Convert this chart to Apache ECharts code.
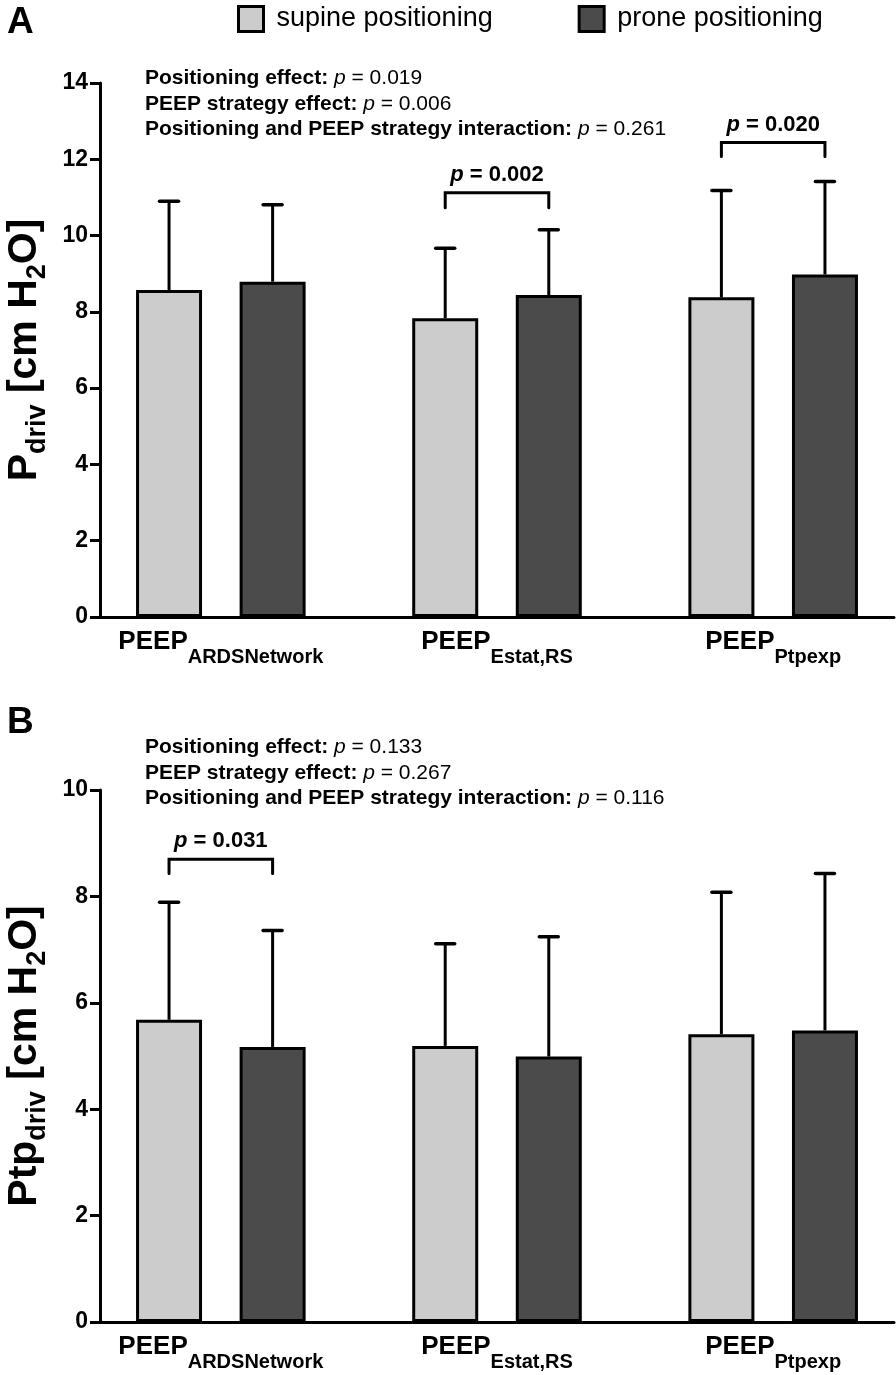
<!DOCTYPE html>
<html>
<head>
<meta charset="utf-8">
<script src="https://cdn.jsdelivr.net/npm/echarts@6/dist/echarts.min.js"></script>
<style>
html,body{margin:0;padding:0;background:#fff;}
#chart{width:896px;height:1375px;}
</style>
</head>
<body>
<div id="chart"></div>
<script>
// ---------------- data ----------------
const categories = ['ARDSNetwork', 'Estat,RS', 'Ptpexp'];
const seriesNames = ['supine positioning', 'prone positioning'];

// Panel A: Pdriv [cm H2O]
const aSupineMean = [8.57, 7.83, 8.38];
const aSupineSD   = [2.33, 1.84, 2.80];
const aProneMean  = [8.79, 8.44, 8.98];
const aProneSD    = [2.02, 1.71, 2.44];

// Panel B: Ptpdriv [cm H2O]
const bSupineMean = [5.68, 5.19, 5.41];
const bSupineSD   = [2.21, 1.92, 2.67];
const bProneMean  = [5.17, 4.99, 5.48];
const bProneSD    = [2.19, 2.25, 2.95];

const aYTicks = [0, 2, 4, 6, 8, 10, 12, 14];
const bYTicks = [0, 2, 4, 6, 8, 10];

const aStats = [
  ['Positioning effect:', '0.019'],
  ['PEEP strategy effect:', '0.006'],
  ['Positioning and PEEP strategy interaction:', '0.261']
];
const bStats = [
  ['Positioning effect:', '0.133'],
  ['PEEP strategy effect:', '0.267'],
  ['Positioning and PEEP strategy interaction:', '0.116']
];

// pairwise comparisons: group index, p value, bracket level, leg end
const aPairs = [
  { group: 1, p: '0.002', level: 11.12, leg: 10.73 },
  { group: 2, p: '0.020', level: 12.44, leg: 12.07 }
];
const bPairs = [
  { group: 0, p: '0.031', level: 8.70, leg: 8.43 }
];

// ---------------- layout helpers ----------------
const SANS = "'Liberation Sans', Arial, sans-serif";
const SUPINE_COLOR = '#cccccc';
const PRONE_COLOR = '#4b4b4b';

const groupCenter = i => 3.5 + 8 * i;
const supineX = i => groupCenter(i) - 1.5;
const proneX = i => groupCenter(i) + 1.5;

function barData(means, xf) {
  return means.map((m, i) => [xf(i), m]);
}
function errData(means, sds, xf) {
  return means.map((m, i) => [xf(i), m, sds[i]]);
}

function errRender(params, api) {
  const x = api.value(0), m = api.value(1), sd = api.value(2);
  const p0 = api.coord([x, m]);
  const p1 = api.coord([x, m + sd]);
  return {
    type: 'group',
    children: [
      { type: 'line', shape: { x1: p0[0], y1: p0[1], x2: p1[0], y2: p1[1] }, style: { stroke: '#000', lineWidth: 3 } },
      { type: 'line', shape: { x1: p1[0] - 9.5, y1: p1[1], x2: p1[0] + 9.5, y2: p1[1] }, style: { stroke: '#000', lineWidth: 3.5, lineCap: 'round' } }
    ]
  };
}

function bracketRenderFactory(pairs) {
  return function (params, api) {
    const pr = pairs[params.dataIndex];
    const a = api.coord([supineX(pr.group), pr.level]);
    const b = api.coord([proneX(pr.group), pr.level]);
    const al = api.coord([supineX(pr.group), pr.leg]);
    return {
      type: 'group',
      children: [
        { type: 'polyline', shape: { points: [[a[0], al[1]], [a[0], a[1]], [b[0], b[1]], [b[0], al[1]]] },
          style: { stroke: '#000', lineWidth: 3, fill: null, lineJoin: 'miter', lineCap: 'round' } },
        { type: 'text', x: (a[0] + b[0]) / 2, y: a[1] - 18,
          style: {
            text: '{i|p}{b| = ' + pr.p + '}',
            align: 'center', verticalAlign: 'middle',
            rich: {
              i: { fontFamily: SANS, fontSize: 22, fontWeight: 'bold', fontStyle: 'italic', fill: '#000' },
              b: { fontFamily: SANS, fontSize: 22, fontWeight: 'bold', fill: '#000' }
            }
          } }
      ]
    };
  };
}

function statsText(stats) {
  return stats.map(s => '{b|' + s[0] + ' }{i|p}{r| = ' + s[1] + '}').join('\n');
}
const statsRich = {
  b: { fontFamily: SANS, fontSize: 21, fontWeight: 'bold', fill: '#000', lineHeight: 25.5 },
  i: { fontFamily: SANS, fontSize: 21, fontStyle: 'italic', fill: '#000', lineHeight: 25.5 },
  r: { fontFamily: SANS, fontSize: 21, fill: '#000', lineHeight: 25.5 }
};

const xLabelRich = {
  m: { fontFamily: SANS, fontSize: 26, fontWeight: 'bold', color: '#000', lineHeight: 38, verticalAlign: 'top' },
  s: { fontFamily: SANS, fontSize: 20, fontWeight: 'bold', color: '#000', verticalAlign: 'bottom' }
};
const yNameRich = {
  m: { fontFamily: SANS, fontSize: 41, fontWeight: 'bold', color: '#000', lineHeight: 47, verticalAlign: 'top' },
  s: { fontFamily: SANS, fontSize: 27, fontWeight: 'bold', color: '#000', verticalAlign: 'bottom' }
};

function xAxisDef(gridIndex) {
  return {
    type: 'value', gridIndex, min: 0, max: 23,
    axisLine: { show: true, lineStyle: { color: '#000', width: 3 } },
    axisTick: { show: false },
    splitLine: { show: false },
    axisLabel: {
      customValues: categories.map((c, i) => groupCenter(i)),
      margin: 12,
      formatter: v => {
        const idx = Math.round((v - 3.5) / 8);
        return '{m|PEEP}{s|' + categories[idx] + '}';
      },
      rich: xLabelRich
    }
  };
}
function yAxisDef(gridIndex, ticks, nameRich) {
  return {
    type: 'value', gridIndex,
    min: ticks[0], max: ticks[ticks.length - 1], interval: ticks[1] - ticks[0],
    name: nameRich, nameLocation: 'middle', nameGap: 37,
    nameTextStyle: { rich: yNameRich },
    axisLine: { show: true, lineStyle: { color: '#000', width: 3 } },
    axisTick: { show: true, length: 10, lineStyle: { color: '#000', width: 3 } },
    splitLine: { show: false },
    axisLabel: { color: '#000', fontFamily: SANS, fontWeight: 'bold', fontSize: 23, margin: 12 }
  };
}

function barSeries(name, means, xf, color, idx) {
  return {
    name, type: 'bar', xAxisIndex: idx, yAxisIndex: idx,
    data: barData(means, xf),
    barWidth: 66, barGap: '-100%',
    itemStyle: { color, borderColor: '#000', borderWidth: 3 },
    emphasis: { disabled: true },
    z: 2
  };
}
function errSeries(means, sds, xf, idx) {
  return {
    type: 'custom', xAxisIndex: idx, yAxisIndex: idx,
    data: errData(means, sds, xf), renderItem: errRender,
    encode: { x: 0, y: 1 }, z: 3, silent: true
  };
}
function bracketSeries(pairs, idx) {
  return {
    type: 'custom', xAxisIndex: idx, yAxisIndex: idx,
    data: pairs.map(p => [groupCenter(p.group), p.level]),
    renderItem: bracketRenderFactory(pairs),
    encode: { x: 0, y: 1 }, z: 4, silent: true, clip: false
  };
}

const chart = echarts.init(document.getElementById('chart'), null, { renderer: 'canvas' });
const option = {
  backgroundColor: '#fff',
  animation: false,
  legend: {
    data: seriesNames,
    left: 237, top: 5, padding: 0,
    icon: 'rect',
    itemWidth: 25, itemHeight: 25, itemGap: 85,
    itemStyle: { borderColor: '#000', borderWidth: 3 },
    textStyle: { fontFamily: SANS, fontSize: 27, color: '#000', padding: [0, 0, 0, 8] },
    selectedMode: false
  },
  grid: [
    { left: 100, top: 83, width: 794, height: 534, containLabel: false, outerBoundsMode: 'none' },
    { left: 100, top: 790, width: 794, height: 532, containLabel: false, outerBoundsMode: 'none' }
  ],
  xAxis: [xAxisDef(0), xAxisDef(1)],
  yAxis: [
    yAxisDef(0, aYTicks, '{m|P}{s|driv}{m| [cm H}{s|2}{m|O]}'),
    yAxisDef(1, bYTicks, '{m|Ptp}{s|driv}{m| [cm H}{s|2}{m|O]}')
  ],
  graphic: [
    { type: 'text', left: 7, top: 4, style: { text: 'A', fontFamily: SANS, fontSize: 37, fontWeight: 'bold', fill: '#000' } },
    { type: 'text', left: 7, top: 704, style: { text: 'B', fontFamily: SANS, fontSize: 37, fontWeight: 'bold', fill: '#000' } },
    { type: 'text', left: 145, top: 68, style: { text: statsText(aStats), rich: statsRich } },
    { type: 'text', left: 145, top: 737, style: { text: statsText(bStats), rich: statsRich } }
  ],
  series: [
    barSeries(seriesNames[0], aSupineMean, supineX, SUPINE_COLOR, 0),
    barSeries(seriesNames[1], aProneMean, proneX, PRONE_COLOR, 0),
    errSeries(aSupineMean, aSupineSD, supineX, 0),
    errSeries(aProneMean, aProneSD, proneX, 0),
    bracketSeries(aPairs, 0),
    barSeries(seriesNames[0], bSupineMean, supineX, SUPINE_COLOR, 1),
    barSeries(seriesNames[1], bProneMean, proneX, PRONE_COLOR, 1),
    errSeries(bSupineMean, bSupineSD, supineX, 1),
    errSeries(bProneMean, bProneSD, proneX, 1),
    bracketSeries(bPairs, 1)
  ]
};
chart.setOption(option);
</script>
</body>
</html>
